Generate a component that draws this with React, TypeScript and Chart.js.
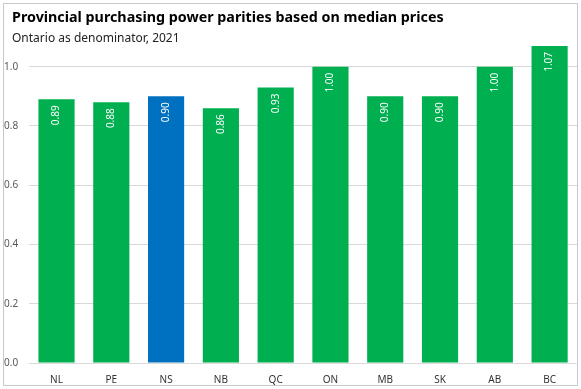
import React, { useEffect, useRef } from "react";
import { Chart, registerables } from "chart.js";

Chart.register(...registerables);

const categories = ["NL", "PE", "NS", "NB", "QC", "ON", "MB", "SK", "AB", "BC"];
const values = [0.89, 0.88, 0.9, 0.86, 0.93, 1.0, 0.9, 0.9, 1.0, 1.07];
const highlight = "NS";
const titleText = "Provincial purchasing power parities based on median prices";
const subtitleText = "Ontario as denominator, 2021";

const GREEN = "#00B050";
const BLUE = "#0070C0";
const FONT = "'Noto Sans', 'DejaVu Sans', sans-serif";

const decorPlugin = {
  id: "decor",
  beforeDraw(chart: any) {
    const ctx = chart.ctx;
    ctx.save();
    ctx.fillStyle = "#ffffff";
    ctx.fillRect(0, 0, chart.width, chart.height);
    ctx.strokeStyle = "#c8c8c8";
    ctx.lineWidth = 1;
    ctx.strokeRect(3.5, 3.5, chart.width - 7, chart.height - 7);
    ctx.fillStyle = "#000000";
    ctx.textBaseline = "alphabetic";
    ctx.textAlign = "left";
    ctx.font = "bold 14.3px " + FONT;
    ctx.fillText(titleText, 12, 22);
    ctx.font = "12px " + FONT;
    ctx.fillStyle = "#222222";
    ctx.fillText(subtitleText, 12, 42);
    ctx.restore();
  },
  afterDatasetsDraw(chart: any) {
    const ctx = chart.ctx;
    const meta = chart.getDatasetMeta(0);
    ctx.save();
    ctx.fillStyle = "#ffffff";
    ctx.font = "10px " + FONT;
    ctx.textAlign = "right";
    ctx.textBaseline = "middle";
    meta.data.forEach((bar: any, i: number) => {
      ctx.save();
      ctx.translate(bar.x, bar.y + 6);
      ctx.rotate(-Math.PI / 2);
      ctx.fillText(values[i].toFixed(2), 0, 0);
      ctx.restore();
    });
    ctx.restore();
  },
};

export default function App() {
  const ref = useRef<HTMLCanvasElement | null>(null);
  useEffect(() => {
    if (!ref.current) return;
    const chart = new Chart(ref.current, {
      type: "bar",
      data: {
        labels: categories,
        datasets: [
          {
            data: values,
            backgroundColor: categories.map((c) => (c === highlight ? BLUE : GREEN)),
            categoryPercentage: 1,
            barPercentage: 0.66,
          },
        ],
      },
      options: {
        animation: false,
        responsive: false,
        devicePixelRatio: 1,
        layout: { padding: { top: 43, right: 4, left: -7, bottom: -8 } },
        plugins: {
          legend: { display: false },
          tooltip: { enabled: false },
          title: { display: false },
        },
        scales: {
          x: {
            grid: { display: false, drawTicks: false },
            border: { display: true, color: "#d9d9d9" },
            ticks: { color: "#333333", font: { family: FONT, size: 10 }, padding: 11 },
          },
          y: {
            min: 0,
            max: 1.08,
            afterBuildTicks: (axis: any) => {
              axis.ticks = [0, 0.2, 0.4, 0.6, 0.8, 1.0].map((v) => ({ value: v }));
            },
            grid: { color: "#d9d9d9", drawTicks: false },
            border: { display: false },
            ticks: {
              color: "#595959",
              font: { family: FONT, size: 10 },
              padding: 11,
              callback: (v: any) => Number(v).toFixed(1),
            },
          },
        },
      },
      plugins: [decorPlugin],
    });
    return () => chart.destroy();
  }, []);
  return (
    <div style={{ position: "fixed", left: 0, top: 0, width: 581, height: 389 }}>
      <canvas ref={ref} width={581} height={389} style={{ display: "block" }} />
    </div>
  );
}
